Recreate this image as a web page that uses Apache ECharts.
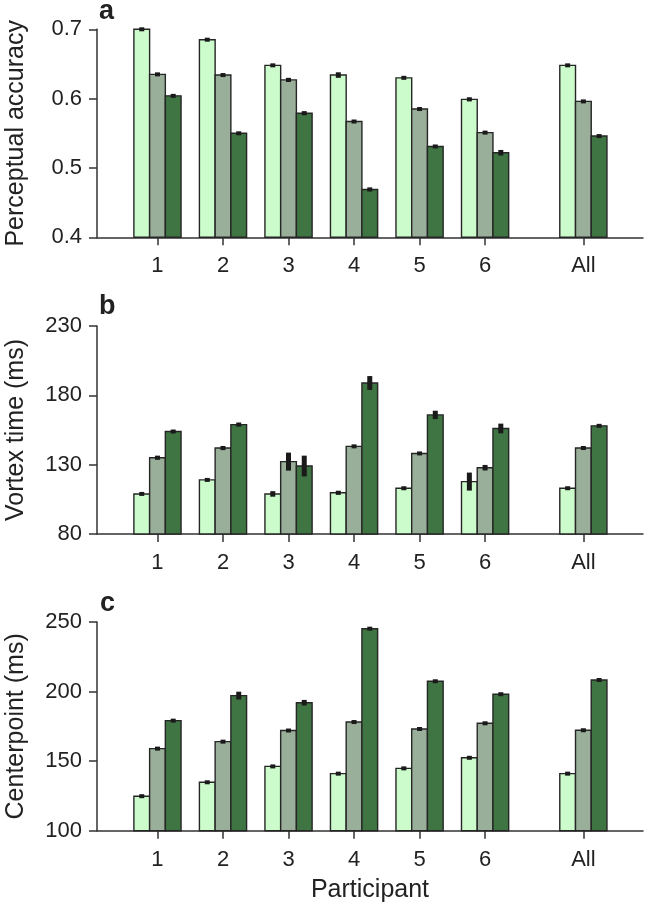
<!DOCTYPE html>
<html>
<head>
<meta charset="utf-8">
<script src="https://cdn.jsdelivr.net/npm/echarts@6/dist/echarts.min.js"></script>
<style>
html,body{margin:0;padding:0;background:#fff;}
#chart{width:650px;height:909px;}
</style>
</head>
<body>
<div id="chart"></div>
<script>
// ---- Data ----
const categories = ['1', '2', '3', '4', '5', '6', 'All'];
const xPositions = [1, 2, 3, 4, 5, 6, 7.5];

// Panel a: Perceptual accuracy
const accLight = [0.700, 0.685, 0.648, 0.634, 0.630, 0.599, 0.648];
const accMid   = [0.635, 0.634, 0.627, 0.567, 0.585, 0.551, 0.596];
const accDark  = [0.604, 0.550, 0.579, 0.469, 0.531, 0.522, 0.546];
const accLightErr = [0.001, 0.001, 0.002, 0.004, 0.001, 0.003, 0.0005];
const accMidErr   = [0.001, 0.002, 0.003, 0.001, 0.002, 0.002, 0.0005];
const accDarkErr  = [0.002, 0.001, 0.003, 0.003, 0.002, 0.004, 0.0005];

// Panel b: Vortex time (ms)
const vtxLight = [108.9, 119.0, 108.9, 109.7, 113.0, 117.8, 113.0];
const vtxMid   = [135.0, 142.0, 132.2, 143.2, 138.1, 127.8, 142.0];
const vtxDark  = [153.9, 158.9, 129.0, 188.9, 165.9, 156.1, 158.0];
const vtxLightErr = [0.5, 0.5, 2.0, 1.5, 0.5, 6.5, 0.5];
const vtxMidErr   = [1.5, 1.5, 6.5, 0.5, 1.0, 2.0, 0.5];
const vtxDarkErr  = [0.7, 1.5, 7.5, 5.0, 3.0, 3.5, 1.2];

// Panel c: Centerpoint (ms)
const cpLight = [124.8, 134.8, 146.2, 141.0, 144.8, 152.4, 141.0];
const cpMid   = [159.0, 164.0, 172.0, 178.1, 173.1, 177.2, 172.2];
const cpDark  = [179.1, 197.1, 192.0, 245.2, 207.4, 198.1, 208.3];
const cpLightErr = [0.6, 0.3, 0.5, 0.6, 0.4, 0.4, 0.8];
const cpMidErr   = [0.5, 0.7, 1.2, 0.4, 0.6, 0.5, 0.4];
const cpDarkErr  = [0.4, 2.8, 2.0, 0.6, 0.4, 0.5, 0.4];

const yTicksA = [0.4, 0.5, 0.6, 0.7];
const yTicksB = [80, 130, 180, 230];
const yTicksC = [100, 150, 200, 250];

// ---- Styles ----
const FONT = 'Liberation Sans, Arial, Helvetica, sans-serif';
const TXT = '#222';
const AX = '#333';
const COLORS = ['#ccfccc', '#9aaf9a', '#3e7542'];
const BAR_W = 0.24;

const panels = [
  { name: 'Perceptual accuracy', letter: 'a', top: 29.3, height: 208, min: 0.4, max: 0.7, ticks: yTicksA, dec: 1,
    vals: [accLight, accMid, accDark], errs: [accLightErr, accMidErr, accDarkErr] },
  { name: 'Vortex time (ms)', letter: 'b', top: 326, height: 208, min: 80, max: 230, ticks: yTicksB, dec: 0,
    vals: [vtxLight, vtxMid, vtxDark], errs: [vtxLightErr, vtxMidErr, vtxDarkErr] },
  { name: 'Centerpoint (ms)', letter: 'c', top: 622, height: 208.7, min: 100, max: 250, ticks: yTicksC, dec: 0,
    vals: [cpLight, cpMid, cpDark], errs: [cpLightErr, cpMidErr, cpDarkErr] }
];

const grids = [], xAxes = [], yAxes = [], series = [], graphics = [];

panels.forEach((p, pi) => {
  grids.push({ left: 97, right: 7, top: p.top, height: p.height, containLabel: false, outerBoundsMode: 'none' });
  xAxes.push({
    type: 'value', gridIndex: pi, min: 0.077, max: 8.41,
    name: pi === 2 ? 'Participant' : '',
    nameLocation: 'middle', nameGap: 47,
    nameTextStyle: { fontFamily: FONT, fontSize: 25, color: TXT },
    axisLine: { show: true, onZero: false, lineStyle: { color: AX, width: 1.5 } },
    axisTick: { show: true, length: 8, customValues: xPositions, lineStyle: { color: AX, width: 1.5 } },
    axisLabel: { customValues: xPositions, margin: 18, fontFamily: FONT, fontSize: 22, color: TXT,
      formatter: v => { const i = xPositions.indexOf(v); return i >= 0 ? categories[i] : ''; } },
    splitLine: { show: false }
  });
  yAxes.push({
    type: 'value', gridIndex: pi, min: p.min, max: p.max,
    name: p.name, nameLocation: 'middle', nameGap: 68,
    nameTextStyle: { fontFamily: FONT, fontSize: 25, color: TXT },
    axisLine: { show: true, onZero: false, lineStyle: { color: AX, width: 1.5 } },
    axisTick: { show: true, length: 8, customValues: p.ticks, lineStyle: { color: AX, width: 1.5 } },
    axisLabel: { customValues: p.ticks, margin: 15, fontFamily: FONT, fontSize: 22, color: TXT,
      formatter: v => v.toFixed(p.dec) },
    splitLine: { show: false }
  });
  for (let k = 0; k < 3; k++) {
    const data = xPositions.map((x, i) => [x, p.vals[k][i], p.errs[k][i], k]);
    series.push({
      type: 'custom', xAxisIndex: pi, yAxisIndex: pi, data: data, clip: false,
      encode: { x: 0, y: 1 },
      renderItem: (params, api) => {
        const x = api.value(0), y = api.value(1), e = api.value(2), kk = api.value(3);
        const cx = x + (kk - 1) * BAR_W;
        const tl = api.coord([cx - BAR_W / 2, y]);
        const br = api.coord([cx + BAR_W / 2, p.min]);
        const eTop = api.coord([cx, y + e]);
        const eBot = api.coord([cx, y - e]);
        let eh = eBot[1] - eTop[1];
        let ey = eTop[1];
        if (eh < 4) { ey = (eTop[1] + eBot[1]) / 2 - 2; eh = 4; }
        return {
          type: 'group',
          children: [
            { type: 'rect', shape: { x: tl[0], y: tl[1], width: br[0] - tl[0], height: br[1] - tl[1] },
              style: { fill: COLORS[kk], stroke: '#262626', lineWidth: 1.4 } },
            { type: 'rect', shape: { x: (tl[0] + br[0]) / 2 - 2.5, y: ey, width: 5, height: eh },
              style: { fill: '#1a1a1a' } }
          ]
        };
      }
    });
  }
});

graphics.push(
  { type: 'text', left: 99, top: -2, style: { text: 'a', font: 'bold 27px ' + FONT, fill: '#222' } },
  { type: 'text', left: 99, top: 293, style: { text: 'b', font: 'bold 27px ' + FONT, fill: '#222' } },
  { type: 'text', left: 100, top: 590, style: { text: 'c', font: 'bold 27px ' + FONT, fill: '#222' } }
);

const chart = echarts.init(document.getElementById('chart'), null, { renderer: 'canvas' });
chart.setOption({
  animation: false,
  backgroundColor: '#fff',
  grid: grids, xAxis: xAxes, yAxis: yAxes, series: series, graphic: graphics
});
</script>
</body>
</html>
